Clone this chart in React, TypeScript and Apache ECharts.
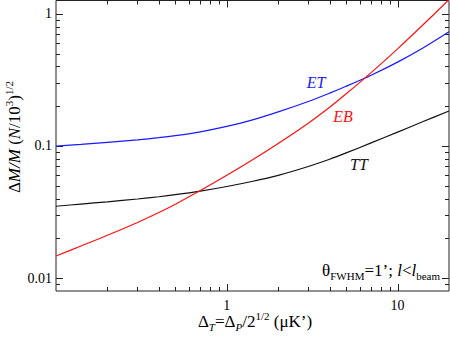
import React, { useEffect, useRef } from 'react';
import * as echarts from 'echarts';

// Data (x in μK', y = ΔM/M)
const xValues = [0.1, 0.14, 0.2, 0.3, 0.4, 0.5, 0.7, 1, 1.4, 2, 3, 4, 5, 7, 10, 14, 20];
const ttValues = [0.035, 0.03635, 0.0378, 0.0397, 0.0413, 0.0428, 0.0456, 0.0494, 0.0539, 0.06, 0.07, 0.0794, 0.0886, 0.1055, 0.1274, 0.1524, 0.184];
const etValues = [0.0997, 0.1027, 0.1065, 0.1113, 0.1156, 0.1198, 0.128, 0.1405, 0.157, 0.181, 0.217, 0.251, 0.283, 0.343, 0.431, 0.548, 0.73];
const ebValues = [0.0147, 0.0175, 0.0211, 0.0264, 0.0314, 0.0363, 0.046, 0.06, 0.078, 0.1045, 0.1486, 0.196, 0.248, 0.359, 0.543, 0.818, 1.28];

const xMajorTicks = [1, 10];
const xMinorTicks = [0.2, 0.3, 0.4, 0.5, 0.6, 0.7, 0.8, 0.9, 2, 3, 4, 5, 6, 7, 8, 9];
const yMajorTicks = [0.01, 0.1, 1];
const yMinorTicks = [0.009, 0.02, 0.03, 0.04, 0.05, 0.06, 0.07, 0.08, 0.09, 0.2, 0.3, 0.4, 0.5, 0.6, 0.7, 0.8, 0.9];
const xTickLabels = ['1', '10'];
const yTickLabels = ['0.01', '0.1', '1'];

const X_MIN = 0.1;
const X_MAX = 20;
const Y_MIN = 0.008;
const Y_MAX = 1.26;

const SERIF = "'Times New Roman', 'Liberation Serif', 'DejaVu Serif', serif";

function pair(xs: number[], ys: number[]) {
  return xs.map((x, i) => [x, ys[i]]);
}

function labelFor(v: number, ticks: number[], labels: string[]) {
  for (let i = 0; i < ticks.length; i++) {
    if (Math.abs(Math.log10(v) - Math.log10(ticks[i])) < 1e-6) return labels[i];
  }
  return '';
}

export default function App() {
  const ref = useRef<HTMLDivElement>(null);
  useEffect(() => {
    if (!ref.current) return;
    const chart = echarts.init(ref.current, undefined, { renderer: 'svg' });

    const tickData: number[][] = [];
    xMajorTicks.forEach((v) => tickData.push([v, 0.1, 0]));
    xMinorTicks.forEach((v) => tickData.push([v, 0.1, 1]));
    yMajorTicks.forEach((v) => tickData.push([1, v, 2]));
    yMinorTicks.forEach((v) => tickData.push([1, v, 3]));

    const tickStyle = { stroke: '#222', lineWidth: 1 };
    const T = 17;
    const S = 11;

    const option: any = {
      animation: false,
      backgroundColor: '#fff',
      textStyle: { fontFamily: SERIF },
      grid: {
        left: 56,
        right: 1,
        top: 0.5,
        bottom: 48,
        show: true,
        borderColor: '#222',
        borderWidth: 1,
        containLabel: false,
        outerBoundsMode: 'none',
      },
      xAxis: {
        type: 'log',
        logBase: 10,
        min: X_MIN,
        max: X_MAX,
        axisLine: { show: false },
        axisTick: { show: false },
        splitLine: { show: false },
        axisLabel: {
          margin: 7,
          color: '#000',
          fontFamily: SERIF,
          fontSize: 14,
          formatter: (v: number) => labelFor(v, xMajorTicks, xTickLabels),
        },
      },
      yAxis: {
        type: 'log',
        logBase: 10,
        min: Y_MIN,
        max: Y_MAX,
        axisLine: { show: false },
        axisTick: { show: false },
        splitLine: { show: false },
        axisLabel: {
          margin: 4,
          color: '#000',
          fontFamily: SERIF,
          fontSize: 14,
          formatter: (v: number) => labelFor(v, yMajorTicks, yTickLabels),
        },
      },
      series: [
        {
          name: 'TT',
          type: 'line',
          data: pair(xValues, ttValues),
          showSymbol: false,
          smooth: 0.3,
          lineStyle: { color: '#111', width: 1.2 },
        },
        {
          name: 'ET',
          type: 'line',
          data: pair(xValues, etValues),
          showSymbol: false,
          smooth: 0.3,
          lineStyle: { color: '#1a1aff', width: 1.2 },
        },
        {
          name: 'EB',
          type: 'line',
          data: pair(xValues, ebValues),
          showSymbol: false,
          smooth: 0.3,
          lineStyle: { color: '#ff1010', width: 1.2 },
        },
        {
          name: 'ticks',
          type: 'custom',
          clip: false,
          silent: true,
          encode: { x: 0, y: 1 },
          data: tickData,
          renderItem: (params: any, api: any) => {
            const cs = params.coordSys;
            const kind = api.value(2);
            const children: any[] = [];
            if (kind === 0 || kind === 1) {
              const len = kind === 0 ? 7 : 4;
              const px = Math.round(api.coord([api.value(0), 0.1])[0]) + 0.5;
              const y0 = cs.y;
              const y1 = cs.y + cs.height;
              children.push({ type: 'line', shape: { x1: px, y1: y1, x2: px, y2: y1 - len }, style: tickStyle });
              children.push({ type: 'line', shape: { x1: px, y1: y0, x2: px, y2: y0 + len }, style: tickStyle });
            } else {
              const len = kind === 2 ? 7 : 4;
              const py = Math.round(api.coord([1, api.value(1)])[1]) + 0.5;
              const x0 = cs.x;
              const x1 = cs.x + cs.width;
              children.push({ type: 'line', shape: { x1: x0, y1: py, x2: x0 + len, y2: py }, style: tickStyle });
              children.push({ type: 'line', shape: { x1: x1, y1: py, x2: x1 - len, y2: py }, style: tickStyle });
            }
            return { type: 'group', children };
          },
        },
      ],
      graphic: [
        {
          type: 'text',
          x: 316,
          y: 82,
          style: {
            text: 'ET',
            fill: '#1a1aff',
            fontFamily: SERIF,
            fontStyle: 'italic',
            fontSize: 16,
            align: 'center',
            verticalAlign: 'middle',
          },
        },
        {
          type: 'text',
          x: 343,
          y: 116,
          style: {
            text: 'EB',
            fill: '#ff1010',
            fontFamily: SERIF,
            fontStyle: 'italic',
            fontSize: 16,
            align: 'center',
            verticalAlign: 'middle',
          },
        },
        {
          type: 'text',
          x: 359,
          y: 164,
          style: {
            text: 'TT',
            fill: '#111',
            fontFamily: SERIF,
            fontStyle: 'italic',
            fontSize: 16,
            align: 'center',
            verticalAlign: 'middle',
          },
        },
        {
          type: 'text',
          x: 440,
          y: 270,
          style: {
            text: '{n|θ}{sub|FWHM}{n|=1’; }{i|l}{n|<}{i|l}{sub|beam}',
            align: 'right',
            verticalAlign: 'middle',
            fill: '#000',
            rich: {
              n: { fontFamily: SERIF, fontSize: T, lineHeight: 22, fill: '#000' },
              i: { fontFamily: SERIF, fontSize: T, fontStyle: 'italic', lineHeight: 22, fill: '#000' },
              sub: { fontFamily: SERIF, fontSize: S, lineHeight: 22, verticalAlign: 'bottom', fill: '#000' },
            },
          },
        },
        {
          type: 'text',
          x: 255,
          y: 321,
          style: {
            text: '{n|Δ}{si|T}{n|=Δ}{si|P}{n|/2}{s|1/2}{n| (μK’)}',
            align: 'center',
            verticalAlign: 'middle',
            fill: '#000',
            rich: {
              n: { fontFamily: SERIF, fontSize: T, lineHeight: 22, fill: '#000' },
              si: { fontFamily: SERIF, fontSize: S, fontStyle: 'italic', lineHeight: 22, verticalAlign: 'bottom', fill: '#000' },
              s: { fontFamily: SERIF, fontSize: S, lineHeight: 22, verticalAlign: 'top', fill: '#000' },
            },
          },
        },
        {
          type: 'text',
          x: 14,
          y: 137,
          rotation: Math.PI / 2,
          style: {
            text: '{n|Δ}{i|M/M}{n| (}{i|N}{n|/10}{s|3}{n|)}{s|1/2}',
            align: 'center',
            verticalAlign: 'middle',
            fill: '#000',
            rich: {
              n: { fontFamily: SERIF, fontSize: T, lineHeight: 22, fill: '#000' },
              i: { fontFamily: SERIF, fontSize: T, fontStyle: 'italic', lineHeight: 22, fill: '#000' },
              s: { fontFamily: SERIF, fontSize: S, lineHeight: 22, verticalAlign: 'top', fill: '#000' },
            },
          },
        },
      ],
    };
    chart.setOption(option);
    return () => chart.dispose();
  }, []);

  return (
    <div
      ref={ref}
      style={{ position: 'absolute', left: 0, top: 0, width: 450, height: 339 }}
    />
  );
}
